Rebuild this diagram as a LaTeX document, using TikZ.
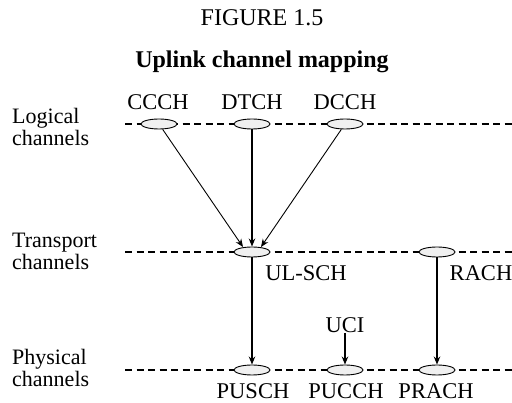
\documentclass[tikz,border=0pt]{standalone}
\usepackage{fontspec}
\setmainfont{Liberation Serif}
\usetikzlibrary{shapes.geometric,arrows.meta}
\begin{document}
\begin{tikzpicture}[x=1pt,y=-1pt,
  chan/.style={ellipse,draw=black,fill=black!6,line width=0.9pt,minimum width=36pt,minimum height=10pt,inner sep=0pt},
  lvl/.style={dashed,line width=1.3pt,dash pattern=on 7pt off 4.5pt},
  txt/.style={font=\fontsize{22.5}{23}\selectfont,inner sep=0pt},
  ttl/.style={font=\fontsize{24}{26}\selectfont,inner sep=0pt},
  lbl/.style={font=\fontsize{22}{22}\selectfont,inner sep=0pt,align=left,anchor=west},
  arr/.style={-{Stealth[length=8pt,width=6.5pt]},line width=1.5pt},
  darr/.style={-{Stealth[length=8pt,width=6.5pt]},line width=0.9pt}]
\useasboundingbox (0,0) rectangle (512,403);
% titles
\node[ttl] (fig) at (262,18) {FIGURE 1.5};
\node[ttl,font=\fontsize{24}{26}\selectfont\bfseries] (title) at (262,62) {Uplink channel mapping};
% level labels
\node[lbl] (lg) at (12,127) {Logical\\channels};
\node[lbl] (tr) at (12,251) {Transport\\channels};
\node[lbl] (ph) at (12,368) {Physical\\channels};
% dashed lines
\coordinate (l0) at (125,124); \coordinate (l1) at (512,124);
\coordinate (t0) at (125,252); \coordinate (t1) at (512,252);
\coordinate (p0) at (125,370); \coordinate (p1) at (512,370);
\draw[lvl] (l0) -- (l1);
\draw[lvl] (t0) -- (t1);
\draw[lvl] (p0) -- (p1);
% channels
\node[chan] (ccch) at (159,124) {};
\node[chan] (dtch) at (252,124) {};
\node[chan] (dcch) at (345,124) {};
\node[chan] (ulsch) at (252,252) {};
\node[chan] (rach) at (437,252) {};
\node[chan] (pusch) at (252,370) {};
\node[chan] (pucch) at (345,370) {};
\node[chan] (prach) at (437,370) {};
% channel labels
\node[txt] (tccch) at (158,102) {CCCH};
\node[txt] (tdtch) at (252,102) {DTCH};
\node[txt] (tdcch) at (345,102) {DCCH};
\node[txt] (tulsch) at (306,273) {UL-SCH};
\node[txt] (track) at (481,273) {RACH};
\node[txt] (uci) at (345,325) {UCI};
\node[txt] (tpusch) at (253,391) {PUSCH};
\node[txt] (tpucch) at (346,391) {PUCCH};
\node[txt] (tprach) at (436,391) {PRACH};
% arrows
\coordinate (a1) at (243,247);
\coordinate (a3) at (261,247);
\draw[darr] (ccch) -- (a1);
\draw[arr] (dtch) -- (ulsch);
\draw[darr] (dcch) -- (a3);
\draw[arr] (ulsch) -- (pusch);
\draw[arr] (rach) -- (prach);
\draw[arr] (uci) -- (pucch);
\end{tikzpicture}
\end{document}
